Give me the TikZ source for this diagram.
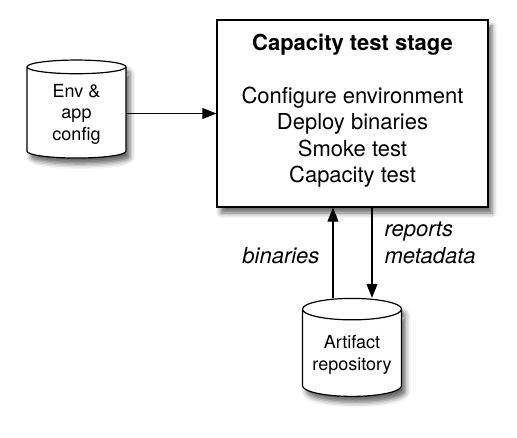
\documentclass[tikz,border=0pt]{standalone}
\usepackage{fontspec}
\setmainfont{TeX Gyre Heros}
\usetikzlibrary{shapes.geometric, arrows.meta, positioning, shadows.blur}
\tikzstyle{stage} = [rectangle, minimum width=271pt, minimum height=187pt, align=center, draw=black, line width=1.4pt, fill=white, font=\fontsize{22}{26.5}\selectfont, blur shadow={shadow xshift=4pt, shadow yshift=-6pt, shadow blur radius=5pt, shadow opacity=60}]
\tikzstyle{store} = [cylinder, shape border rotate=90, aspect=0.25, minimum width=99pt, minimum height=98pt, align=center, draw=black, line width=1.2pt, fill=white, font=\fontsize{18}{21.5}\selectfont, blur shadow={shadow xshift=4pt, shadow yshift=-6pt, shadow blur radius=5pt, shadow opacity=60}]
\tikzstyle{arrow} = [line width=1.3pt, -{Triangle[length=14pt, width=11pt]}]
\tikzstyle{flowlabel} = [font=\fontsize{22}{26.5}\selectfont\itshape, align=left]
\begin{document}
\begin{tikzpicture}[x=1pt, y=-1pt]
      \useasboundingbox (0,0) rectangle (517,438);

      % Stage box
      \node[stage] (stage) at (352.5,113.5) {\textbf{Capacity test stage}\\ \\ Configure environment\\ Deploy binaries\\ Smoke test\\ Capacity test\\[-16pt] \mbox{}};

      % Stores
      \node[store] (env) at (76.5,114) {Env \&\\ app\\ config};
      \node[store] (artifact) at (352,355) {Artifact\\ repository};

      % Flows
      \draw[arrow] (env.east |- stage.west) -- (stage.west);
      \draw[arrow] ([xshift=-19pt]artifact.north) -- ([xshift=-19pt]artifact.north |- stage.south);
      \draw[arrow] ([xshift=20pt]artifact.north |- stage.south) -- ([xshift=20pt]artifact.north);

      % Labels
      \node[flowlabel, anchor=east] (binlabel) at (323,256) {binaries};
      \node[flowlabel, anchor=west] (replabel) at (381,243) {reports\\ metadata};
    \end{tikzpicture}
\end{document}
